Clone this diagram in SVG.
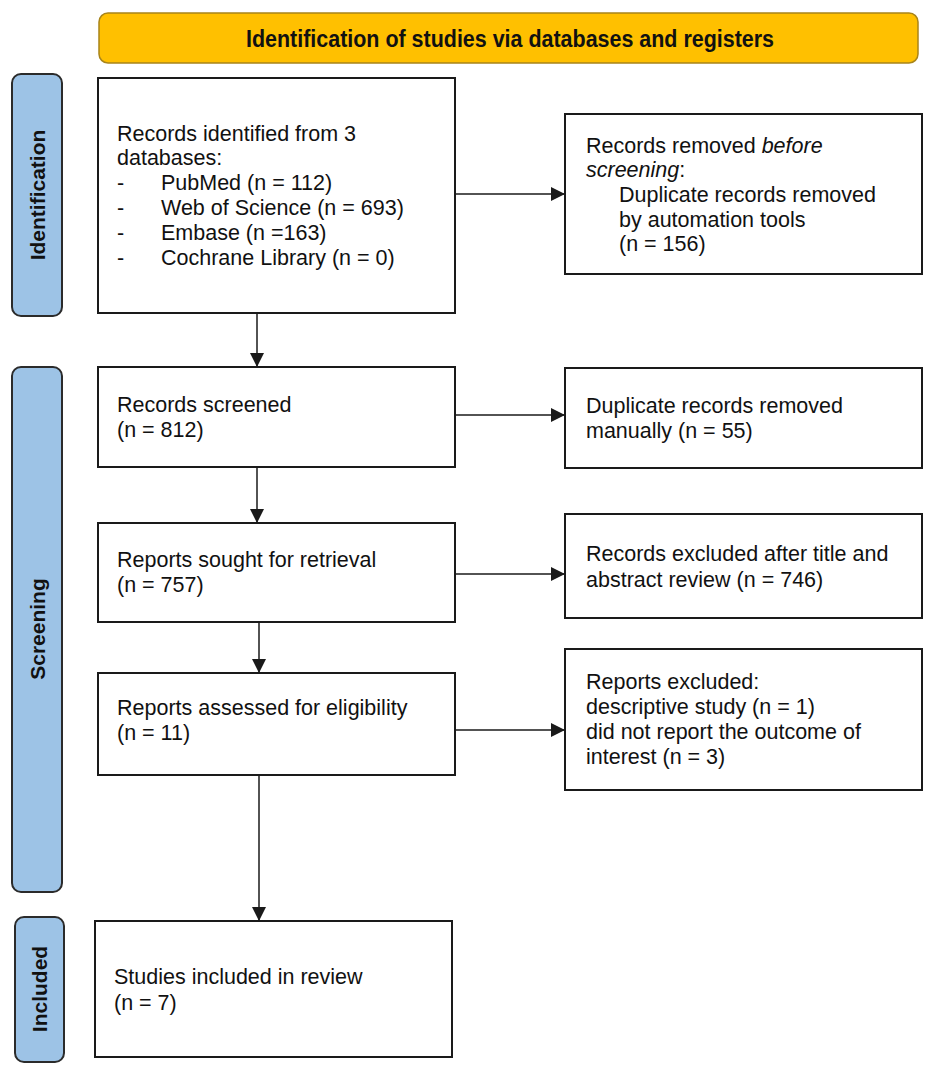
<svg xmlns="http://www.w3.org/2000/svg" width="935" height="1066" viewBox="0 0 935 1066">
<style>
.box{fill:#fff;stroke:#1a1a1a;stroke-width:2}
.side{fill:#9DC3E6;stroke:#2b2b2b;stroke-width:2}
.t{font-family:"Liberation Sans",Arial,sans-serif;font-size:21.5px;fill:#111}
.st{font-family:"Liberation Sans",Arial,sans-serif;font-size:21px;font-weight:bold;fill:#111}
.conn{stroke:#1a1a1a;stroke-width:1.5;fill:none}
</style>
<defs>
<marker id="ah" markerWidth="16" markerHeight="16" refX="14" refY="7" orient="auto" markerUnits="userSpaceOnUse">
<path d="M0,0 L14,7 L0,14 Z" fill="#1a1a1a"/>
</marker>
</defs>
<rect width="935" height="1066" fill="#fff"/>
<g id="banner">
<rect x="99" y="13" width="819" height="50" rx="9" fill="#FFC000" stroke="#A8841A" stroke-width="1.5"/>
<text x="246" y="47" font-family="'Liberation Sans',Arial,sans-serif" font-size="23" font-weight="bold" fill="#111" textLength="528" lengthAdjust="spacingAndGlyphs">Identification of studies via databases and registers</text>
</g>
<g id="label-identification">
<rect class="side" x="12" y="74" width="50" height="242" rx="9"/>
<text class="st" transform="translate(45,195) rotate(-90)" text-anchor="middle">Identification</text>
</g>
<g id="label-screening">
<rect class="side" x="12" y="367" width="50" height="525" rx="9"/>
<text class="st" transform="translate(45,629) rotate(-90)" text-anchor="middle">Screening</text>
</g>
<g id="label-included">
<rect class="side" x="15" y="917" width="49" height="145" rx="9"/>
<text class="st" transform="translate(47,989) rotate(-90)" text-anchor="middle">Included</text>
</g>
<g id="node-identified">
<rect class="box" x="98" y="78" width="357" height="235"/>
<text class="t" x="117" y="141">Records identified from 3</text>
<text class="t" x="117" y="165">databases:</text>
<text class="t" x="117" y="190">-</text><text class="t" x="161" y="190">PubMed (n = 112)</text>
<text class="t" x="117" y="215">-</text><text class="t" x="161" y="215">Web of Science (n = 693)</text>
<text class="t" x="117" y="240">-</text><text class="t" x="161" y="240">Embase (n =163)</text>
<text class="t" x="117" y="265">-</text><text class="t" x="161" y="265">Cochrane Library (n = 0)</text>
</g>
<g id="node-removed-before">
<rect class="box" x="565" y="114" width="357" height="160"/>
<text class="t" x="586" y="153">Records removed <tspan font-style="italic">before</tspan></text>
<text class="t" x="586" y="177"><tspan font-style="italic">screening</tspan>:</text>
<text class="t" x="619" y="202">Duplicate records removed</text>
<text class="t" x="619" y="227">by automation tools</text>
<text class="t" x="619" y="251">(n = 156)</text>
</g>
<g id="node-screened">
<rect class="box" x="98" y="367" width="357" height="100"/>
<text class="t" x="117" y="412">Records screened</text>
<text class="t" x="117" y="437">(n = 812)</text>
</g>
<g id="node-dup-manual">
<rect class="box" x="565" y="368" width="357" height="100"/>
<text class="t" x="586" y="413">Duplicate records removed</text>
<text class="t" x="586" y="438">manually (n = 55)</text>
</g>
<g id="node-sought">
<rect class="box" x="98" y="523" width="357" height="99"/>
<text class="t" x="117" y="567">Reports sought for retrieval</text>
<text class="t" x="117" y="592">(n = 757)</text>
</g>
<g id="node-excluded-title">
<rect class="box" x="565" y="514" width="357" height="104"/>
<text class="t" x="586" y="561">Records excluded after title and</text>
<text class="t" x="586" y="587">abstract review (n = 746)</text>
</g>
<g id="node-assessed">
<rect class="box" x="98" y="673" width="357" height="102"/>
<text class="t" x="117" y="715">Reports assessed for eligibility</text>
<text class="t" x="117" y="740">(n = 11)</text>
</g>
<g id="node-reports-excluded">
<rect class="box" x="565" y="649" width="357" height="141"/>
<text class="t" x="586" y="689">Reports excluded:</text>
<text class="t" x="586" y="714">descriptive study (n = 1)</text>
<text class="t" x="586" y="739">did not report the outcome of</text>
<text class="t" x="586" y="764">interest (n = 3)</text>
</g>
<g id="node-included">
<rect class="box" x="95" y="921" width="357" height="136"/>
<text class="t" x="114" y="984">Studies included in review</text>
<text class="t" x="114" y="1010">(n = 7)</text>
</g>
<g id="connectors">
<line class="conn" x1="257" y1="313" x2="257" y2="367" marker-end="url(#ah)"/>
<line class="conn" x1="257" y1="467" x2="257" y2="523" marker-end="url(#ah)"/>
<line class="conn" x1="259" y1="622" x2="259" y2="673" marker-end="url(#ah)"/>
<line class="conn" x1="259" y1="775" x2="259" y2="921" marker-end="url(#ah)"/>
<line class="conn" x1="455" y1="194" x2="565" y2="194" marker-end="url(#ah)"/>
<line class="conn" x1="455" y1="415" x2="565" y2="415" marker-end="url(#ah)"/>
<line class="conn" x1="455" y1="574" x2="565" y2="574" marker-end="url(#ah)"/>
<line class="conn" x1="455" y1="730" x2="565" y2="730" marker-end="url(#ah)"/>
</g>
</svg>
